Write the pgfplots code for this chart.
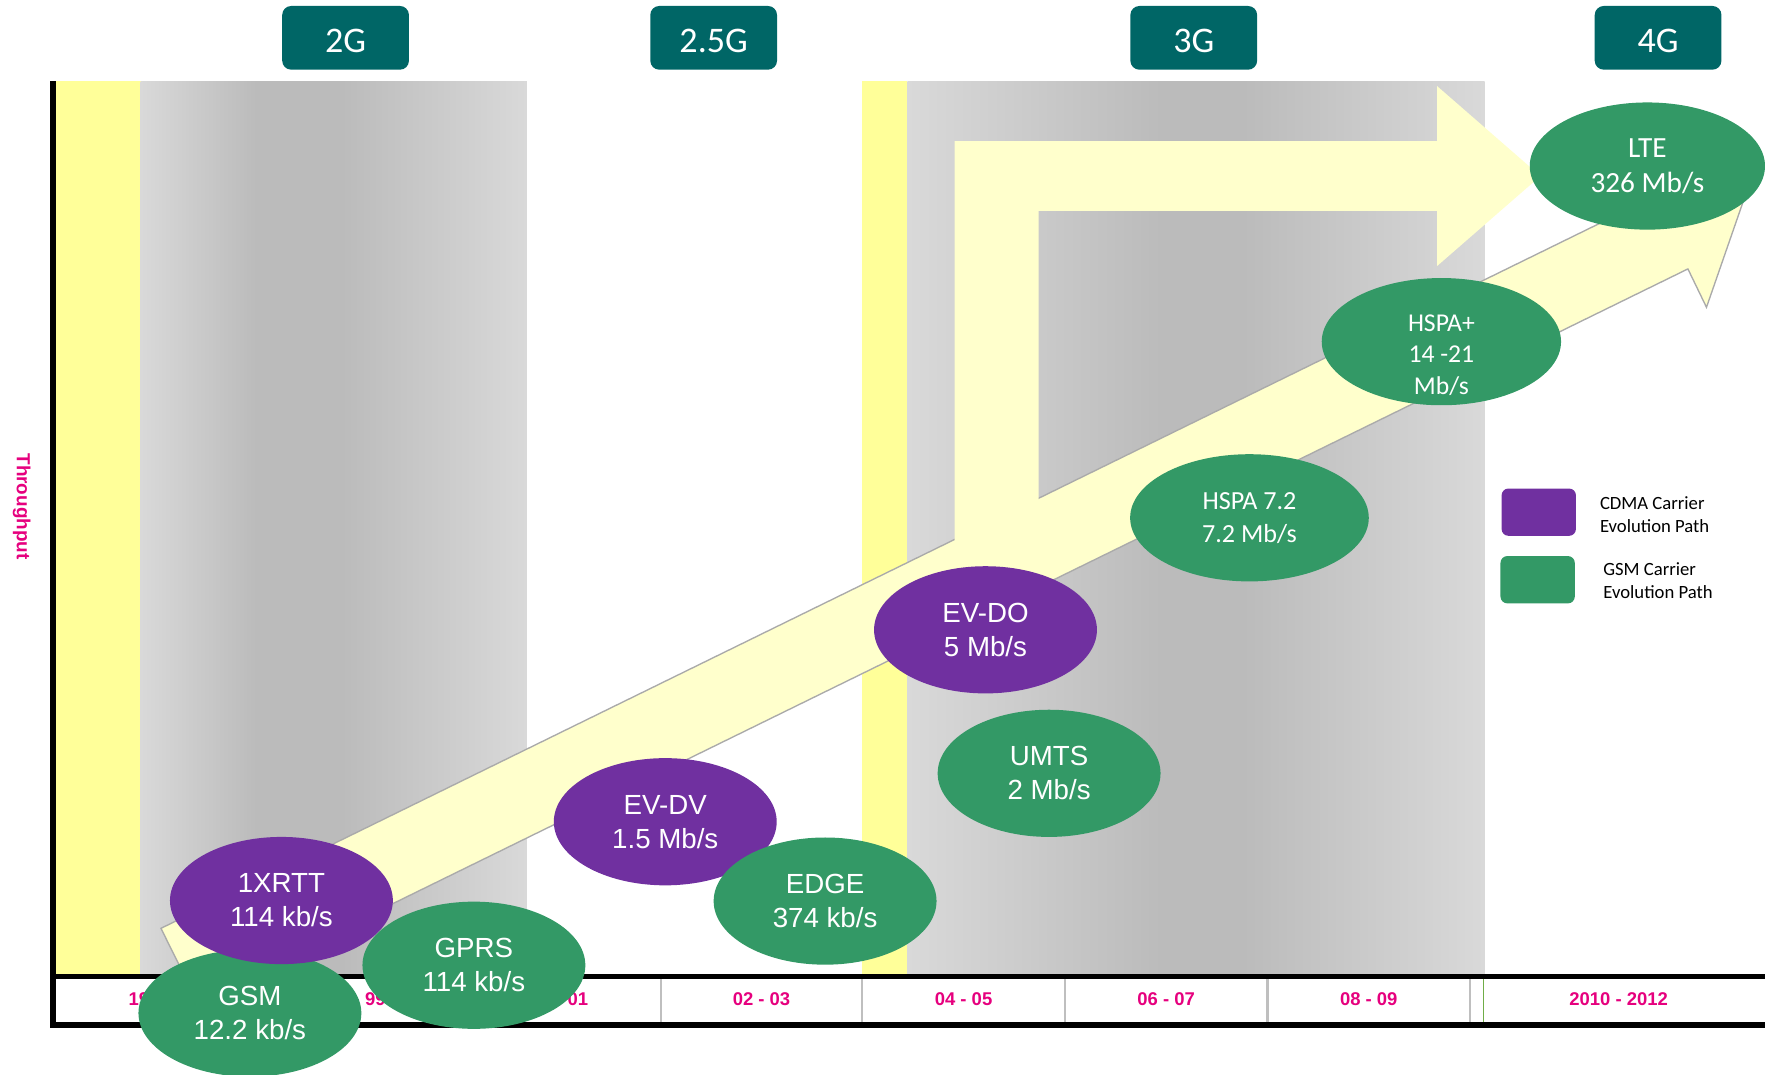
\documentclass[border=0pt]{standalone}
\usepackage{pgfplots}
\pgfplotsset{compat=1.18}
\usepackage{fontspec}
\setmainfont{Liberation Sans}
\newfontfamily\calibri{Carlito}
\usetikzlibrary{shapes.geometric}

\definecolor{purp}{HTML}{7030A0}
\definecolor{grn}{HTML}{339966}
\definecolor{tealh}{HTML}{006666}
\definecolor{pinkl}{HTML}{E6007E}
\definecolor{yel}{HTML}{FFFF99}
\definecolor{paleyel}{HTML}{FFFFCC}
\definecolor{glight}{HTML}{D9D9D9}
\definecolor{gdark}{HTML}{BBBBBB}
\definecolor{outl}{HTML}{AAAAAA}
\definecolor{divg}{HTML}{BFBFBF}
\definecolor{divgreen}{HTML}{70AD47}

\pgfdeclarehorizontalshading{bandA}{100bp}{color(0bp)=(glight); color(25bp)=(glight); color(40bp)=(gdark); color(51bp)=(gdark); color(75bp)=(glight); color(100bp)=(glight)}
\pgfdeclarehorizontalshading{bandB}{100bp}{color(0bp)=(glight); color(25bp)=(glight); color(47bp)=(gdark); color(54bp)=(gdark); color(75bp)=(glight); color(100bp)=(glight)}

\pgfplotsset{
  bubble/.style n args={3}{only marks, mark=none, point meta=explicit symbolic,
    nodes near coords,
    every node near coord/.append style={shape=ellipse, fill=#1, text=white,
      anchor=center, inner sep=0pt, align=center, minimum width=#2,
      minimum height=56.5pt, font=#3}},
}

\begin{document}
\begin{tikzpicture}
\begin{axis}[name=ax, scale only axis, width=784pt, height=477.5pt,
  xmin=0, xmax=1568, ymin=0, ymax=955, y dir=reverse, hide axis]

% background bands
\fill[yel] (axis cs:49,72) rectangle (axis cs:125,866);
\shade[shading=bandA] (axis cs:125,72) rectangle (axis cs:468,866);
\fill[yel] (axis cs:766,72) rectangle (axis cs:806,866);
\shade[shading=bandB] (axis cs:806,72) rectangle (axis cs:1319,866);

% diagonal evolution arrow
\addplot[fill=paleyel, draw=outl, line width=0.6pt] coordinates {
  (143,824.7) (174.5,888.3) (1499.5,238.9) (1516,273) (1550,175) (1452,142) (1468.3,175.3)} -- cycle;
% 3G branch arrow
\addplot[fill=paleyel, draw=none] coordinates {
  (848,483) (848,125.3) (1276.6,125.3) (1276.6,76.4) (1368.5,156.4) (1276.6,236.4)
  (1276.6,187.4) (922.7,187.4) (922.7,445)} -- cycle;

% timeline table
\fill[white] (axis cs:49,870) rectangle (axis cs:1568,907.6);
\fill[black] (axis cs:44.4,865) rectangle (axis cs:1568,870);
\fill[black] (axis cs:44.4,907.6) rectangle (axis cs:1568,913);
\fill[black] (axis cs:44.4,72) rectangle (axis cs:49.9,913);
\foreach \xx in {227,407,587,766,946,1126,1306}{
  \edef\tmp{\noexpand\draw[divg, line width=1pt] (axis cs:\xx,870) -- (axis cs:\xx,907.6);}\tmp}
\draw[divgreen, line width=0.7pt] (axis cs:1318,870) -- (axis cs:1318,907.6);

\begin{scope}[every node/.style={text=pinkl, font=\bfseries\fontsize{8.2}{9}\selectfont}]
\node at (axis cs:137,887.5) {1990s};
\node at (axis cs:317,887.5) {96 - 99};
\node at (axis cs:497,887.5) {00 - 01};
\node at (axis cs:676.5,887.5) {02 - 03};
\node at (axis cs:856,887.5) {04 - 05};
\node at (axis cs:1036,887.5) {06 - 07};
\node at (axis cs:1216,887.5) {08 - 09};
\node at (axis cs:1438,887.5) {2010 - 2012};
\end{scope}

\node[rotate=-90, text=pinkl, font=\bfseries\fontsize{8.4}{10}\selectfont] at (axis cs:19.3,450) {Throughput};

% technologies: (period position, throughput position)
\addplot[bubble={grn}{99pt}{\fontsize{12.3}{15.1}\selectfont}] coordinates {(222,900) [GSM\\12.2 kb/s]};
\addplot[bubble={purp}{99pt}{\fontsize{12.3}{15.1}\selectfont}] coordinates {(250,800) [1XRTT\\114 kb/s]};
\addplot[bubble={grn}{99pt}{\fontsize{12.3}{15.1}\selectfont}] coordinates {(421,857.5) [GPRS\\114 kb/s]};
\addplot[bubble={purp}{99pt}{\fontsize{12.3}{15.1}\selectfont}] coordinates {(591,730) [EV-DV\\1.5 Mb/s]};
\addplot[bubble={grn}{99pt}{\fontsize{12.3}{15.1}\selectfont}] coordinates {(733,800.5) [EDGE\\374 kb/s]};
\addplot[bubble={grn}{99pt}{\fontsize{12.3}{15.1}\selectfont}] coordinates {(932,687) [UMTS\\2 Mb/s]};
\addplot[bubble={purp}{99pt}{\fontsize{12.3}{15.1}\selectfont}] coordinates {(875.5,559.5) [EV-DO\\5 Mb/s]};
\addplot[bubble={grn}{106pt}{\calibri\fontsize{11.6}{14.5}\selectfont}] coordinates {(1110,460) [HSPA 7.2\\7.2 Mb/s]};
\addplot[bubble={grn}{106.3pt}{\calibri\fontsize{11.4}{14}\selectfont}] coordinates {(1280.5,303.5) [\strut]};
\addplot[bubble={none}{10pt}{\calibri\fontsize{11.4}{14}\selectfont}, every node near coord/.append style={minimum height=0pt}] coordinates {(1280.5,315.5) [HSPA+\\14 -21\\Mb/s]};
\addplot[bubble={grn}{104.5pt}{\calibri\fontsize{13}{15.5}\selectfont}] coordinates {(1463.5,147.5) [LTE\\326 Mb/s]};

% legend
\node[fill=purp, rounded corners=3pt, minimum width=33pt, minimum height=21pt, inner sep=0pt] at (axis cs:1367,455) {};
\node[fill=grn, rounded corners=3pt, minimum width=33pt, minimum height=21pt, inner sep=0pt] at (axis cs:1366,515) {};
\node[anchor=west, align=left, inner sep=0pt, font=\calibri\fontsize{8.3}{10}\selectfont] at (axis cs:1421,457) {CDMA Carrier\\Evolution Path};
\node[anchor=west, align=left, inner sep=0pt, font=\calibri\fontsize{8.3}{10}\selectfont] at (axis cs:1424,516) {GSM Carrier\\Evolution Path};

% generation headers
\begin{scope}[every node/.style={fill=tealh, rounded corners=4pt, minimum width=56.3pt, minimum height=28.3pt, inner sep=0pt}]
\node at (axis cs:307,33.6) {};
\node at (axis cs:634,33.6) {};
\node at (axis cs:1060.5,33.6) {};
\node at (axis cs:1473,33.6) {};
\end{scope}
\begin{scope}[every node/.style={text=white, font=\calibri\fontsize{16}{19}\selectfont}]
\node at (axis cs:307,36) {2G};
\node at (axis cs:634,36) {2.5G};
\node at (axis cs:1060.5,36) {3G};
\node at (axis cs:1473,36) {4G};
\end{scope}
\end{axis}
\pgfresetboundingbox
\path (ax.south west) rectangle (ax.north east);
\end{tikzpicture}
\end{document}
